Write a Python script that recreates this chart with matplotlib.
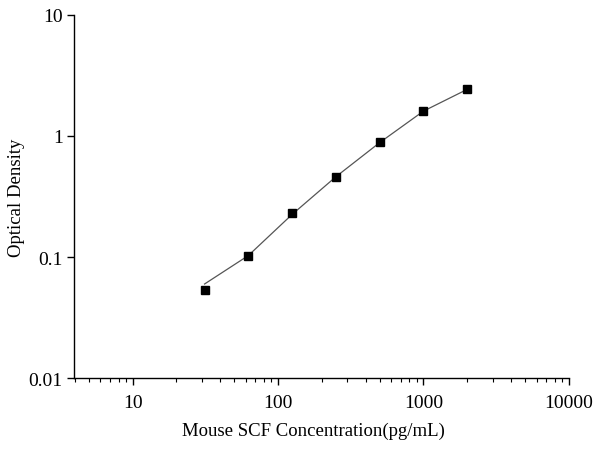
import numpy as np
import matplotlib
matplotlib.use("Agg")
import matplotlib.pyplot as plt
from matplotlib.ticker import LogLocator, NullFormatter, FixedLocator

plt.rcParams['font.family'] = ['Liberation Serif', 'DejaVu Serif']

conc = [31.25, 62.5, 125, 250, 500, 1000, 2000]
od = [0.054, 0.102, 0.232, 0.455, 0.885, 1.61, 2.42]
fit_od = [0.060, 0.103, 0.225, 0.46, 0.88, 1.60, 2.42]

x_ticks = [10, 100, 1000, 10000]
x_tick_labels = ["10", "100", "1000", "10000"]
y_ticks = [0.01, 0.1, 1, 10]
y_tick_labels = ["0.01", "0.1", "1", "10"]

fig = plt.figure(figsize=(6, 4.52), dpi=100)
ax = fig.add_axes([0.1233, 0.1608, 0.8247, 0.8045])

ax.plot(conc, fit_od, color="#555555", linewidth=0.9, zorder=2)
ax.plot(conc, od, linestyle="none", marker="s", markersize=5.5,
        color="black", zorder=3)

ax.set_xscale("log")
ax.set_yscale("log")
ax.set_xlim(3.95, 10000)
ax.set_ylim(0.01, 10)

ax.set_xticks(x_ticks)
ax.set_xticklabels(x_tick_labels)
ax.set_yticks(y_ticks)
ax.set_yticklabels(y_tick_labels)
ax.xaxis.set_minor_locator(LogLocator(base=10, subs=np.arange(2, 10)))
ax.xaxis.set_minor_formatter(NullFormatter())
ax.yaxis.set_minor_locator(FixedLocator([]))

ax.spines["top"].set_visible(False)
ax.spines["right"].set_visible(False)
for s in ["left", "bottom"]:
    ax.spines[s].set_linewidth(1.0)

ax.tick_params(axis="both", which="major", direction="out", length=5,
               width=1.0, labelsize=14)
ax.tick_params(axis="x", which="major", pad=6)
ax.tick_params(axis="y", which="major", pad=3)
ax.tick_params(axis="x", which="minor", direction="out", length=3, width=0.8)

ax.set_xlabel("Mouse SCF Concentration(pg/mL)", fontsize=13.5, labelpad=9)
ax.set_ylabel("Optical Density", fontsize=13.5, labelpad=3)
ax.xaxis.set_label_coords(0.483, -0.12)

fig.savefig("out.png", dpi=100)
